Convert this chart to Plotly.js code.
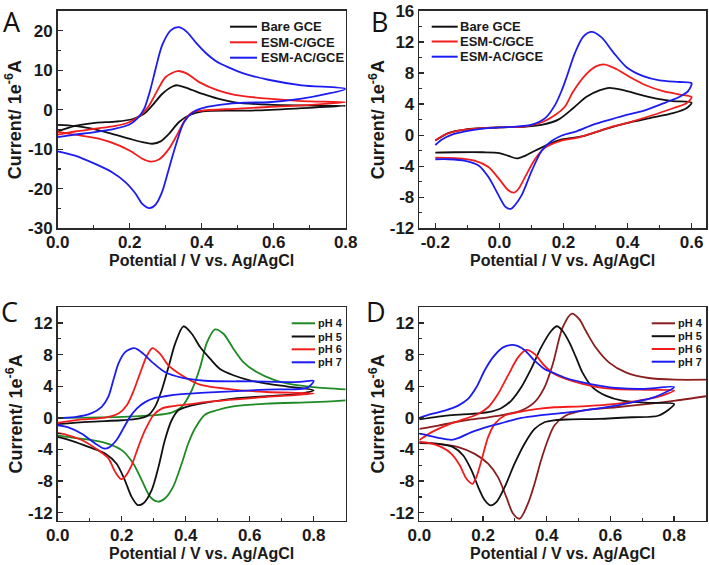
<!DOCTYPE html>
<html>
<head>
<meta charset="utf-8">
<script src="https://cdn.plot.ly/plotly-3.0.1.min.js"></script>
<style>html,body{margin:0;padding:0;background:#fff;}#chart{width:709px;height:565px;}</style>
</head>
<body>
<div id="chart"></div>
<script>
// ---------- Panel A ----------
const A_names = ['Bare GCE', 'ESM-C/GCE', 'ESM-AC/GCE'];
const A_bare_E = [0,0.048,0.104,0.16,0.207,0.24,0.263,0.29,0.319,0.333,0.365,0.403,0.445,0.492,0.585,0.678,0.8,0.678,0.538,0.403,0.365,0.337,0.309,0.286,0.263,0.235,0.198,0.151,0.095,0.048,0];
const A_bare_I = [-5.5,-4.1,-3.3,-3.0,-2.4,-1.0,1.1,4.0,5.9,6.2,5.3,4.0,2.8,1.9,1.3,1.1,1.0,0.4,-0.2,-0.4,-1.4,-3.1,-6.1,-8.0,-8.6,-8.2,-7.3,-6.1,-4.8,-4.1,-3.8];
const A_c_E = [0,0.048,0.104,0.16,0.2,0.23,0.254,0.277,0.3,0.333,0.36,0.393,0.445,0.492,0.585,0.678,0.8,0.678,0.585,0.492,0.403,0.375,0.356,0.333,0.309,0.281,0.258,0.235,0.207,0.17,0.114,0.048,0];
const A_c_I = [-6.3,-5.5,-4.8,-4.1,-3.1,-1.4,1.1,4.9,8.3,9.8,9.1,7.0,4.9,3.8,2.8,2.2,1.9,1.1,0.7,0.25,-0.2,-0.6,-2.3,-6.1,-9.9,-12.6,-13.1,-12.4,-10.7,-9.0,-7.3,-6.3,-5.6];
const A_ac_E = [0,0.048,0.104,0.16,0.198,0.22,0.24,0.258,0.272,0.29,0.314,0.337,0.36,0.384,0.41,0.44,0.473,0.52,0.585,0.678,0.8,0.747,0.678,0.585,0.52,0.455,0.41,0.38,0.351,0.328,0.309,0.29,0.272,0.255,0.235,0.216,0.188,0.151,0.104,0.048,0];
const A_ac_I = [-6.9,-6.3,-5.65,-4.8,-3.8,-2.3,0.25,5.3,10.4,16.3,20.1,20.9,19.6,17.0,14.5,12.3,10.8,9.1,7.6,6.2,5.3,4.0,2.8,1.9,1.8,1.3,0.6,-0.4,-3.1,-9.0,-14.9,-20.8,-24.0,-24.9,-23.8,-21.2,-18.3,-15.8,-13.7,-11.6,-10.5];

// ---------- Panel B ----------
const B_names = ['Bare GCE', 'ESM-C/GCE', 'ESM-AC/GCE'];
const B_bare_E = [-0.2,-0.158,-0.107,0,0.083,0.135,0.184,0.23,0.272,0.314,0.343,0.386,0.438,0.5,0.542,0.6,0.584,0.542,0.47,0.397,0.325,0.262,0.195,0.153,0.111,0.08,0.054,0.028,0,-0.052,-0.138,-0.2];
const B_bare_I = [-0.7,0.3,0.72,1.0,1.1,1.35,2.0,3.47,4.95,5.8,6.1,5.8,5.24,4.65,4.4,4.2,3.47,2.83,2.2,1.56,0.72,-0.13,-0.55,-1.18,-2.0,-2.66,-3.0,-2.66,-2.3,-2.2,-2.2,-2.24];
const B_c_E = [-0.2,-0.169,-0.127,-0.075,0,0.083,0.135,0.174,0.205,0.23,0.272,0.303,0.33,0.366,0.407,0.459,0.511,0.563,0.6,0.584,0.542,0.48,0.397,0.345,0.293,0.241,0.189,0.143,0.111,0.08,0.06,0.046,0.028,0.002,-0.034,-0.075,-0.138,-0.2];
const B_c_I = [-0.68,0.08,0.6,0.85,1.0,1.14,1.7,2.6,3.7,5.6,7.9,8.9,9.1,8.5,7.5,6.4,5.67,5.24,4.9,4.1,3.47,2.6,1.56,1.0,0.3,-0.34,-0.76,-1.6,-3.1,-5.4,-6.9,-7.4,-7.1,-5.8,-4.1,-3.3,-2.96,-2.9];
const B_ac_E = [-0.2,-0.179,-0.148,-0.107,-0.052,0,0.052,0.101,0.143,0.174,0.195,0.21,0.236,0.262,0.288,0.319,0.355,0.397,0.449,0.5,0.563,0.6,0.589,0.563,0.52,0.449,0.397,0.345,0.293,0.241,0.195,0.163,0.132,0.101,0.07,0.049,0.036,0.018,0,-0.034,-0.065,-0.107,-0.158,-0.2];
const B_ac_I = [-1.27,-0.55,0.08,0.5,0.85,1.0,1.1,1.35,2.2,3.9,5.8,7.5,10.6,12.7,13.3,12.6,10.7,8.75,7.6,7.06,6.85,6.7,5.67,4.95,4.23,3.13,2.6,1.99,1.35,0.5,-0.04,-0.76,-2.0,-4.6,-7.7,-9.0,-9.5,-9.2,-7.95,-5.4,-3.9,-3.3,-3.1,-3.1];

// ---------- Panel C ----------
const C_names = ['pH 4', 'pH 5', 'pH 6', 'pH 7'];
const C_ph4_E = [0,0.096,0.2,0.304,0.356,0.3875,0.419,0.445,0.466,0.4916,0.518,0.549,0.58,0.622,0.674,0.737,0.8,0.9,null,0.9,0.8,0.653,0.549,0.497,0.46,0.429,0.408,0.3875,0.361,0.335,0.3125,0.289,0.2625,0.236,0.2,0.148,0.096,0.044,0];
const C_ph4_I = [0,0.04,0.13,0.34,0.67,1.4,3.5,6.4,9.5,11.2,10.65,8.76,7.07,5.8,4.84,4.2,3.9,3.6,null,2.23,2.0,1.8,1.47,0.97,0.4,-1.35,-3.24,-5.77,-8.7,-10.2,-10.6,-10.0,-7.87,-5.77,-4.08,-3.16,-2.74,-2.48,-2.2];
const C_ph5_E = [0,0.096,0.2,0.252,0.283,0.304,0.325,0.346,0.367,0.393,0.419,0.445,0.476,0.507,0.549,0.6,0.653,0.715,0.8,0.757,0.653,0.549,0.46,0.408,0.377,0.356,0.335,0.315,0.294,0.268,0.25,0.231,0.21,0.184,0.148,0.096,0.044,0];
const C_ph5_I = [-0.8,-0.5,-0.3,-0.1,0.34,1.4,3.5,6.4,9.4,11.6,10.65,8.97,7.5,6.2,5.4,4.76,4.34,4.0,3.5,3.07,2.74,2.44,1.9,1.47,0.97,-0.3,-2.8,-6.2,-9.1,-10.8,-11.03,-10.0,-7.9,-5.8,-4.5,-3.66,-2.9,-2.4];
const C_ph6_E = [0,0.075,0.148,0.19,0.216,0.236,0.257,0.278,0.296,0.32,0.346,0.3875,0.445,0.549,0.653,0.8,0.653,0.46,0.408,0.356,0.325,0.299,0.273,0.252,0.231,0.21,0.198,0.179,0.158,0.127,0.075,0.033,0];
const C_ph6_I = [-0.63,-0.2,0.04,0.55,1.6,3.3,5.6,7.8,8.84,8.1,6.65,5.4,4.2,3.58,3.28,3.1,2.65,2.0,1.7,1.47,1.18,0.34,-1.56,-3.66,-6.0,-7.45,-7.75,-6.8,-5.1,-4.1,-2.8,-2.2,-1.9];
const C_ph7_E = [0,0.054,0.106,0.1375,0.158,0.174,0.19,0.21,0.24,0.268,0.294,0.335,0.3875,0.46,0.6,0.757,0.8,0.78,0.653,0.46,0.3875,0.335,0.304,0.273,0.247,0.226,0.205,0.184,0.158,0.143,0.117,0.075,0.033,0];
const C_ph7_I = [0,0.1,0.6,1.4,2.65,4.8,6.9,8.3,8.84,8.1,7.1,5.8,5.1,4.7,4.63,4.55,4.7,3.83,3.58,3.2,3.0,2.74,2.53,2.0,1.18,0.13,-1.35,-2.8,-3.8,-3.87,-3.24,-2.0,-1.2,-0.93];

// ---------- Panel D ----------
const D_names = ['pH 4', 'pH 5', 'pH 6', 'pH 7'];
const D_ph4_E = [0,0.06,0.111,0.164,0.216,0.268,0.32,0.362,0.393,0.419,0.45,0.479,0.502,0.523,0.554,0.596,0.648,0.72,0.804,0.9,null,0.9,0.804,0.72,0.617,0.512,0.46,0.424,0.403,0.382,0.362,0.341,0.315,0.294,0.273,0.247,0.216,0.174,0.122,0.06,0];
const D_ph4_I = [-1.4,-0.97,-0.55,-0.2,0.08,0.42,0.93,2.0,3.87,6.8,11.45,13.2,12.5,11.0,8.9,7.0,5.77,5.05,4.84,4.84,null,2.74,2.19,1.77,1.35,0.93,0.3,-0.97,-2.86,-5.4,-8.3,-10.86,-12.76,-12.1,-10.0,-7.5,-5.8,-4.55,-3.7,-3.3,-3.07];
const D_ph5_E = [0,0.06,0.111,0.164,0.216,0.258,0.289,0.32,0.351,0.382,0.414,0.432,0.45,0.471,0.492,0.512,0.544,0.585,0.637,0.72,0.8,0.752,0.668,0.564,0.46,0.424,0.393,0.362,0.33,0.299,0.268,0.242,0.223,0.205,0.185,0.164,0.138,0.106,0.06,0];
const D_ph5_I = [-0.2,0.17,0.38,0.5,0.72,1.26,2.2,3.87,6.2,8.9,11.0,11.6,11.0,9.56,7.66,5.77,3.87,2.82,2.19,1.9,1.77,0.3,0.08,-0.13,-0.2,-0.3,-0.55,-1.4,-3.3,-5.8,-8.76,-10.65,-11.07,-10.4,-8.76,-6.65,-4.76,-3.7,-3.3,-3.2];
const D_ph6_E = [0,0.039,0.091,0.143,0.184,0.216,0.247,0.278,0.31,0.3356,0.362,0.393,0.424,0.46,0.512,0.564,0.617,0.72,0.8,0.762,0.72,0.617,0.512,0.424,0.372,0.31,0.268,0.237,0.216,0.195,0.179,0.167,0.148,0.127,0.101,0.07,0.033,0];
const D_ph6_I = [-2.8,-1.8,-0.84,-0.13,0.5,1.35,3.03,5.35,7.66,8.6,8.08,6.6,5.56,4.93,4.3,3.87,3.66,3.54,3.45,2.82,2.4,1.77,1.47,1.35,1.14,0.72,0.3,-0.76,-2.44,-5.4,-7.5,-8.34,-7.7,-6.0,-4.55,-3.7,-3.2,-3.07];
const D_ph7_E = [0,0.039,0.08,0.122,0.153,0.179,0.205,0.231,0.263,0.299,0.33,0.362,0.393,0.424,0.46,0.512,0.564,0.617,0.7,0.8,0.762,0.72,0.668,0.617,0.512,0.424,0.372,0.32,0.268,0.216,0.164,0.122,0.101,0.06,0.028,0];
const D_ph7_I = [0,0.5,0.93,1.56,2.4,3.87,6.0,7.66,8.93,9.22,8.6,7.24,6.19,5.64,5.05,4.5,4.08,3.79,3.66,3.9,3.03,2.4,1.98,1.56,0.93,0.5,0.3,0,-0.55,-1.1,-1.8,-2.57,-2.78,-2.53,-2.23,-2.0];

// ---------- Ticks ----------
const X_ticks_ACD = [0, 0.2, 0.4, 0.6, 0.8];
const X_labels_ACD = ['0.0', '0.2', '0.4', '0.6', '0.8'];
const B_xticks = [-0.2, 0, 0.2, 0.4, 0.6];
const B_xlabels = ['-0.2', '0.0', '0.2', '0.4', '0.6'];
const A_yticks = [-30, -20, -10, 0, 10, 20];
const A_ylabels = ['-30', '-20', '-10', '0', '10', '20'];
const B_yticks = [-12, -8, -4, 0, 4, 8, 12, 16];
const B_ylabels = ['-12', '-8', '-4', '0', '4', '8', '12', '16'];
const CD_yticks = [-12, -8, -4, 0, 4, 8, 12];
const CD_ylabels = ['-12', '-8', '-4', '0', '4', '8', '12'];

const panelLetters = ['A', 'B', 'C', 'D'];
const xTitle = 'Potential / V vs. Ag/AgCl';
const yTitle = 'Current/ 1e<sup>-6</sup>A';

// ---------- Styles ----------
const BLACK = '#111111', RED = '#f21c1c', BLUE = '#1c1cf2', GREEN = '#1e8a24', MAROON = '#8a1d1d';
const W = 709, H = 565;
const px = x => x / W;
const py = y => 1 - y / H;
const FONT = 'Liberation Sans, Arial, Helvetica, sans-serif';

function tr(x, y, color, xa, ya) {
  return {x: x, y: y, type: 'scatter', mode: 'lines', xaxis: xa, yaxis: ya,
          line: {color: color, width: 1.8, shape: 'spline', smoothing: 0.8},
          connectgaps: false, showlegend: false, hoverinfo: 'skip'};
}

const data = [
  tr(A_bare_E, A_bare_I, BLACK, 'x', 'y'),
  tr(A_c_E, A_c_I, RED, 'x', 'y'),
  tr(A_ac_E, A_ac_I, BLUE, 'x', 'y'),
  tr(B_bare_E, B_bare_I, BLACK, 'x2', 'y2'),
  tr(B_c_E, B_c_I, RED, 'x2', 'y2'),
  tr(B_ac_E, B_ac_I, BLUE, 'x2', 'y2'),
  tr(C_ph4_E, C_ph4_I, GREEN, 'x3', 'y3'),
  tr(C_ph5_E, C_ph5_I, BLACK, 'x3', 'y3'),
  tr(C_ph6_E, C_ph6_I, RED, 'x3', 'y3'),
  tr(C_ph7_E, C_ph7_I, BLUE, 'x3', 'y3'),
  tr(D_ph4_E, D_ph4_I, MAROON, 'x4', 'y4'),
  tr(D_ph5_E, D_ph5_I, BLACK, 'x4', 'y4'),
  tr(D_ph6_E, D_ph6_I, RED, 'x4', 'y4'),
  tr(D_ph7_E, D_ph7_I, BLUE, 'x4', 'y4')
];

function axis(o) {
  return Object.assign({
    showline: true, mirror: true, linecolor: '#2a2a2a', linewidth: 1.6,
    ticks: 'inside', ticklen: 5, tickwidth: 1.3, tickcolor: '#2a2a2a',
    showgrid: false, zeroline: false, fixedrange: true, automargin: false,
    tickmode: 'array',
    tickfont: {family: FONT, size: 17, color: '#1a1a1a', weight: 'bold'}
  }, o);
}
function xax(domain, anchor, range, tv, tt) {
  return axis({domain: domain, anchor: anchor, range: range, tickvals: tv, ticktext: tt,
    ticklabelstandoff: -2,
    minor: {dtick: 0.1, tick0: 0, ticks: 'inside', ticklen: 3, tickwidth: 1.2, tickcolor: '#2a2a2a', showgrid: false},
    title: {text: xTitle, standoff: 0, font: {family: FONT, size: 16, color: '#1a1a1a', weight: 'bold'}}});
}
function yax(domain, anchor, range, tv, tt, mdt, so) {
  return axis({domain: domain, anchor: anchor, range: range, tickvals: tv, ticktext: tt,
    minor: {dtick: mdt, tick0: 0, ticks: 'inside', ticklen: 3, tickwidth: 1.2, tickcolor: '#2a2a2a', showgrid: false},
    title: {text: yTitle, standoff: so, font: {family: FONT, size: 18, color: '#1a1a1a', weight: 'bold'}}});
}

const col1 = [px(57.7), px(345.7)], col2 = [px(419.3), px(706)];
const row1 = [py(228.3), py(11)], row2 = [py(520.6), py(307.3)];

// legend built from the name arrays
const shapes = [], annotations = [];
function legend(names, colors, lx0, lx1, tx, ys, fs) {
  names.forEach((n, i) => {
    shapes.push({type: 'line', xref: 'paper', yref: 'paper', x0: px(lx0), x1: px(lx1), y0: py(ys[i]), y1: py(ys[i]),
                 line: {color: colors[i], width: 2}});
    annotations.push({xref: 'paper', yref: 'paper', x: px(tx), y: py(ys[i]), xanchor: 'left', yanchor: 'middle',
                      text: n, showarrow: false, font: {family: FONT, size: fs, color: '#1a1a1a', weight: 'bold'}});
  });
}
legend(A_names, [BLACK, RED, BLUE], 230, 257, 259, [26.7, 42.3, 57.7], 13);
legend(B_names, [BLACK, RED, BLUE], 431.7, 457.7, 458, [26.7, 41.5, 56.7], 13);
legend(C_names, [GREEN, BLACK, RED, BLUE], 291.7, 315, 315.5, [323.3, 336.5, 349.3, 362.3], 11);
legend(D_names, [MAROON, BLACK, RED, BLUE], 651.7, 675, 675.5, [323.3, 336.2, 349, 361.7], 11);

const letterPos = [[1, 1], [369, 1], [-1, 291], [364, 291]];
panelLetters.forEach((L, i) => {
  annotations.push({xref: 'paper', yref: 'paper', x: px(letterPos[i][0]), y: py(letterPos[i][1]),
    xanchor: 'left', yanchor: 'top', text: L, showarrow: false,
    font: {family: 'Open Sans, Liberation Sans, sans-serif', size: 27, color: '#111'}});
});

const layout = {
  width: W, height: H, margin: {l: 0, r: 0, t: 0, b: 0},
  paper_bgcolor: '#ffffff', plot_bgcolor: '#ffffff', showlegend: false,
  xaxis: xax(col1, 'y', [0, 0.8], X_ticks_ACD, X_labels_ACD),
  yaxis: yax(row1, 'x', [-30, 25], A_yticks, A_ylabels, 5, 2),
  xaxis2: xax(col2, 'y2', [-0.25, 0.645], B_xticks, B_xlabels),
  yaxis2: yax(row1, 'x2', [-12, 16], B_yticks, B_ylabels, 2, 0),
  xaxis3: xax(col1, 'y3', [0, 0.9], X_ticks_ACD, X_labels_ACD),
  yaxis3: yax(row2, 'x3', [-13, 14], CD_yticks, CD_ylabels, 2, 1),
  xaxis4: xax(col2, 'y4', [0, 0.9], X_ticks_ACD, X_labels_ACD),
  yaxis4: yax(row2, 'x4', [-13, 14], CD_yticks, CD_ylabels, 2, 0),
  shapes: shapes, annotations: annotations
};

Plotly.newPlot('chart', data, layout, {displayModeBar: false, staticPlot: true});
</script>
</body>
</html>
